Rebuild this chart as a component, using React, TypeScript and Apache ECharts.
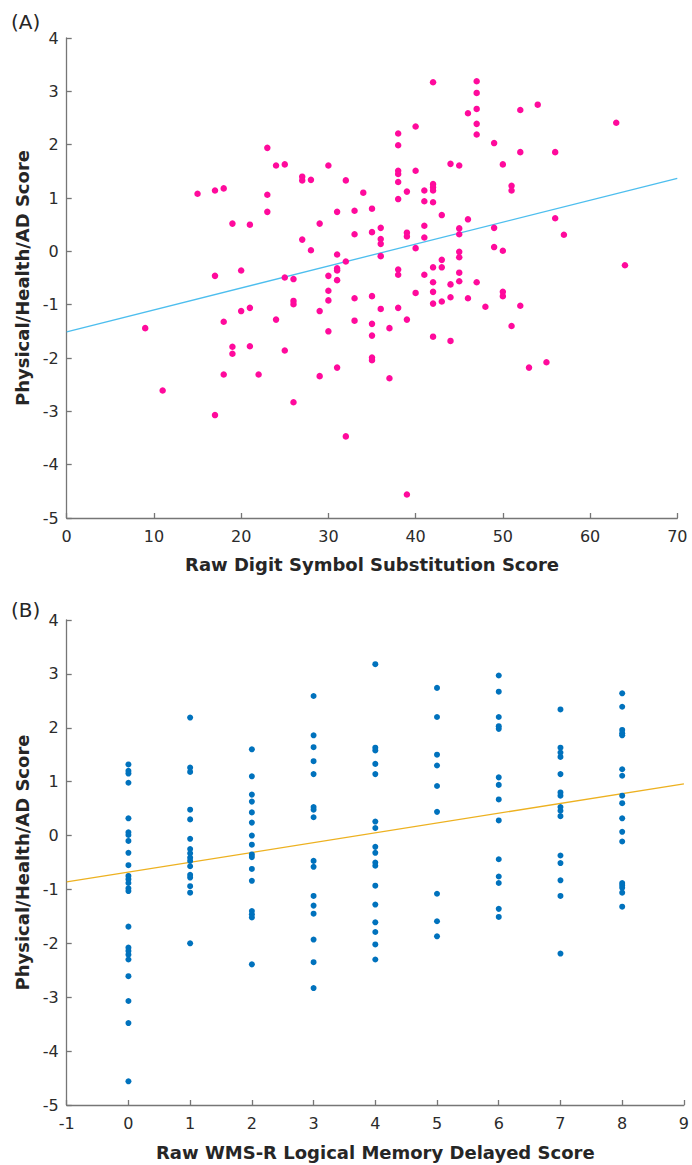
import React, { useEffect, useRef } from "react";
import * as echarts from "echarts";

// Panel A: Raw Digit Symbol Substitution score vs Physical/Health/AD score
const dssPoints: [number, number][] = [
  [9, -1.44], [11, -2.61], [15, 1.08],
  [17, 1.14], [17, -0.46], [17, -3.07],
  [18, 1.18], [18, -1.32], [18, -2.31],
  [19, 0.52], [19, -1.79], [19, -1.92],
  [20, -0.36], [20, -1.12],
  [21, 0.5], [21, -1.06], [21, -1.78],
  [22, -2.31],
  [23, 1.94], [23, 1.06], [23, 0.74],
  [24, 1.61], [24, -1.28],
  [25, 1.63], [25, -0.49], [25, -1.86],
  [26, -0.52], [26, -0.93], [26, -0.99], [26, -2.83],
  [27, 1.4], [27, 1.33], [27, 0.22],
  [28, 1.34], [28, 0.02],
  [29, 0.52], [29, -1.12], [29, -2.34],
  [30, 1.61], [30, -0.46], [30, -0.74], [30, -0.92], [30, -1.5],
  [31, 0.74], [31, -0.06], [31, -0.32], [31, -0.36], [31, -0.54], [31, -2.18],
  [32, 1.33], [32, -0.19], [32, -3.47],
  [33, 0.76], [33, 0.32], [33, -0.88], [33, -1.3],
  [34, 1.1],
  [35, 0.8], [35, 0.36], [35, -0.84], [35, -1.36], [35, -1.58], [35, -1.99], [35, -2.04],
  [36, 0.44], [36, 0.23], [36, 0.14], [36, -0.09], [36, -1.08],
  [37, -1.44], [37, -2.38],
  [38, 2.21], [38, 1.99], [38, 1.51], [38, 1.45], [38, 1.3], [38, 0.98], [38, -0.34], [38, -0.44], [38, -1.06],
  [39, 1.12], [39, 0.35], [39, 0.28], [39, -1.28], [39, -4.56],
  [40, 2.34], [40, 1.51], [40, 0.06], [40, -0.78],
  [41, 1.14], [41, 0.94], [41, 0.48], [41, 0.26], [41, -0.44],
  [42, 3.17], [42, 1.26], [42, 1.2], [42, 1.14], [42, 0.92], [42, -0.3], [42, -0.58], [42, -0.76], [42, -0.98], [42, -1.6],
  [43, 0.68], [43, -0.16], [43, -0.3], [43, -0.94],
  [44, 1.64], [44, -0.62], [44, -0.86], [44, -1.68],
  [45, 1.61], [45, 0.43], [45, 0.32], [45, -0.01], [45, -0.11], [45, -0.4], [45, -0.56],
  [46, 2.59], [46, 0.6], [46, -0.88],
  [47, 3.19], [47, 2.97], [47, 2.67], [47, 2.39], [47, 2.19], [47, -0.58],
  [48, -1.04],
  [49, 2.03], [49, 0.44], [49, 0.08],
  [50, 1.63], [50, 0.01], [50, -0.76], [50, -0.84],
  [51, 1.23], [51, 1.14], [51, -1.4],
  [52, 2.65], [52, 1.86], [52, -1.02],
  [53, -2.18], [54, 2.75], [55, -2.08],
  [56, 1.86], [56, 0.62], [57, 0.31], [63, 2.41], [64, -0.26],
];
const dssFitLine: [number, number][] = [[0, -1.51], [70, 1.37]];

// Panel B: Raw WMS-R Logical Memory Delayed score vs Physical/Health/AD score
const wmsScores = [0, 1, 2, 3, 4, 5, 6, 7, 8];
const wmsValues: number[][] = [
  [1.32, 1.2, 1.15, 0.98, 0.32, 0.06, 0.01, -0.1, -0.32, -0.55, -0.75, -0.81, -0.88, -0.98, -1.03, -1.69, -2.08, -2.14, -2.21, -2.3, -2.61, -3.07, -3.48, -4.56],
  [2.19, 1.26, 1.18, 0.48, 0.3, -0.06, -0.25, -0.33, -0.41, -0.47, -0.57, -0.73, -0.78, -0.94, -1.06, -2.0],
  [1.6, 1.1, 0.76, 0.63, 0.43, 0.24, 0.0, -0.17, -0.35, -0.4, -0.62, -0.84, -1.4, -1.46, -1.52, -2.39],
  [2.59, 1.86, 1.64, 1.38, 1.14, 0.53, 0.48, 0.34, -0.47, -0.58, -1.12, -1.3, -1.45, -1.93, -2.35, -2.83],
  [3.18, 1.63, 1.58, 1.33, 1.14, 0.26, 0.14, -0.21, -0.32, -0.5, -0.56, -0.93, -1.28, -1.61, -1.79, -2.02, -2.3],
  [2.74, 2.2, 1.5, 1.3, 0.92, 0.44, -1.08, -1.59, -1.87],
  [2.97, 2.67, 2.2, 2.03, 1.98, 1.08, 0.94, 0.67, 0.28, -0.44, -0.76, -0.88, -1.36, -1.51],
  [2.34, 1.63, 1.54, 1.46, 1.14, 0.8, 0.74, 0.53, 0.46, 0.36, -0.37, -0.51, -0.83, -1.12, -2.19],
  [2.64, 2.39, 1.96, 1.9, 1.86, 1.23, 1.11, 0.74, 0.6, 0.32, 0.07, -0.11, -0.88, -0.92, -0.97, -1.06, -1.32],
];
const wmsFitLine: [number, number][] = [[-1, -0.86], [9, 0.96]];

const yTitle = "Physical/Health/AD Score";
const xTitleA = "Raw Digit Symbol Substitution Score";
const xTitleB = "Raw WMS-R Logical Memory Delayed Score";

const FONT = "DejaVu Sans";
const AXIS_COLOR = "#767676";
const LABEL_COLOR = "#2b2b2b";

function makeX(gridIndex: number, min: number, max: number, interval: number, name: string, gap: number) {
  return {
    type: "value",
    gridIndex,
    min,
    max,
    interval,
    name,
    nameLocation: "middle",
    nameGap: gap,
    nameTextStyle: { fontFamily: FONT, fontWeight: "bold", fontSize: 18, color: "#262626" },
    axisLine: { show: true, onZero: false, lineStyle: { color: AXIS_COLOR, width: 1.3 } },
    axisTick: { show: true, inside: true, length: 5, lineStyle: { color: AXIS_COLOR, width: 1.3 } },
    axisLabel: { fontFamily: FONT, fontSize: 16, color: LABEL_COLOR, margin: 10 },
    splitLine: { show: false },
  };
}

function makeY(gridIndex: number) {
  return {
    type: "value",
    gridIndex,
    min: -5,
    max: 4,
    interval: 1,
    name: yTitle,
    nameLocation: "middle",
    nameGap: 32,
    nameTextStyle: { fontFamily: FONT, fontWeight: "bold", fontSize: 18, color: "#262626" },
    axisLine: { show: true, onZero: false, lineStyle: { color: AXIS_COLOR, width: 1.3 } },
    axisTick: { show: true, inside: true, length: 5, lineStyle: { color: AXIS_COLOR, width: 1.3 } },
    axisLabel: { fontFamily: FONT, fontSize: 16, color: LABEL_COLOR, margin: 8 },
    splitLine: { show: false },
  };
}

export default function App() {
  const ref = useRef<HTMLDivElement>(null);
  useEffect(() => {
    if (!ref.current) return;
    const chart = echarts.init(ref.current, undefined, { renderer: "svg" });
    const wmsPoints: [number, number][] = [];
    wmsScores.forEach((s, i) => wmsValues[i].forEach((v) => wmsPoints.push([s, v])));
    chart.setOption({
      animation: false,
      backgroundColor: "#ffffff",
      grid: [
        { left: 66.7, top: 38, width: 610.6, height: 480 },
        { left: 66.7, top: 620, width: 617.3, height: 485 },
      ],
      xAxis: [makeX(0, 0, 70, 10, xTitleA, 37), makeX(1, -1, 9, 1, xTitleB, 38)],
      yAxis: [makeY(0), makeY(1)],
      graphic: [
        { type: "text", left: 11, top: 12, style: { text: "(A)", font: `20px '${FONT}'`, fill: "#262626" } },
        { type: "text", left: 11, top: 600, style: { text: "(B)", font: `20px '${FONT}'`, fill: "#262626" } },
      ],
      series: [
        {
          type: "scatter",
          xAxisIndex: 0,
          yAxisIndex: 0,
          data: dssPoints,
          symbolSize: 6.5,
          itemStyle: { color: "#FF0A9C", opacity: 1 },
          z: 3,
        },
        {
          type: "line",
          xAxisIndex: 0,
          yAxisIndex: 0,
          data: dssFitLine,
          symbol: "none",
          lineStyle: { color: "#4DBEEE", width: 1.3 },
          z: 2,
        },
        {
          type: "scatter",
          xAxisIndex: 1,
          yAxisIndex: 1,
          data: wmsPoints,
          symbolSize: 6,
          itemStyle: { color: "#0072BD", opacity: 1 },
          z: 3,
        },
        {
          type: "line",
          xAxisIndex: 1,
          yAxisIndex: 1,
          data: wmsFitLine,
          symbol: "none",
          lineStyle: { color: "#EDB120", width: 1.3 },
          z: 2,
        },
      ],
    });
    return () => chart.dispose();
  }, []);
  return (
    <div
      ref={ref}
      style={{ position: "absolute", left: 0, top: 0, width: 692, height: 1165, background: "#fff" }}
    />
  );
}
